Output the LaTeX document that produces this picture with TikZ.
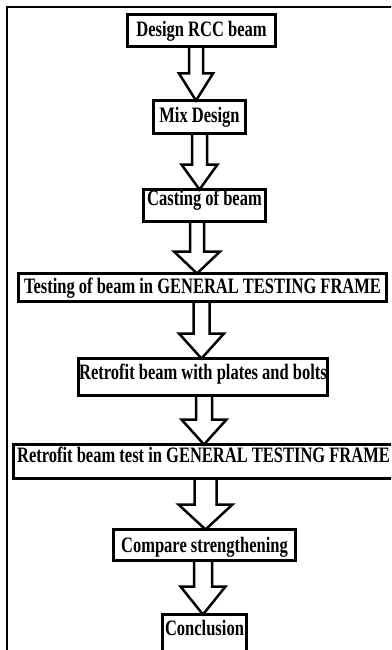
\documentclass[tikz,border=0pt]{standalone}
\usepackage{fontspec}
\setmainfont{Liberation Serif}[FakeStretch=0.75]
\usetikzlibrary{calc}
\tikzset{
  flowbox/.style={draw=black, line width=3pt, fill=white, inner sep=0pt, outer sep=0pt,
    text height=0pt, text depth=0pt, font=\fontsize{22}{22}\selectfont\bfseries},
  arr/.style={draw=black, line width=2.5pt, line join=miter},
  frame/.style={draw=black, line width=2pt}
}
% #1 src, #2 dst, #3 centre x, #4 half shaft, #5 half head, #6 head length
\newcommand\flowarrow[6]{%
  \draw[arr] let \p1=(#1.south), \p2=(#2.north) in
    (#3pt-#4pt,\y1) -- (#3pt-#4pt,\y2+#6pt) -- (#3pt-#5pt,\y2+#6pt) -- (#3pt,\y2)
    -- (#3pt+#5pt,\y2+#6pt) -- (#3pt+#4pt,\y2+#6pt) -- (#3pt+#4pt,\y1);}
\newcommand\bl[2]{\raisebox{#1pt}{#2}}
\begin{document}
\begin{tikzpicture}[x=1pt,y=-1pt]
\useasboundingbox (0,0) rectangle (391,650);
\fill[white] (0,0) rectangle (391,650);
\clip (0,0) rectangle (391,650);
\draw[frame] (7,7) rectangle (402,662);

\node[flowbox, minimum width=148pt, minimum height=32pt] (n1) at (201.5,30.5) {\bl{-6.5}{Design RCC beam}};
\node[flowbox, minimum width=92pt,  minimum height=33pt] (n2) at (199.5,117) {\bl{-6}{Mix Design}};
\node[flowbox, minimum width=122pt, minimum height=32pt] (n3) at (204.5,205.5) {\bl{0.5}{Casting of beam}};
\node[flowbox, minimum width=368pt, minimum height=28pt] (n4) at (202.5,287.5) {\bl{-5.5}{Testing of beam in GENERAL TESTING FRAME}};
\node[flowbox, minimum width=249pt, minimum height=37pt] (n5) at (203,377) {\bl{-2}{Retrofit beam with plates and bolts}};
\node[flowbox, minimum width=380pt, minimum height=34pt] (n6) at (203.5,461.5) {\bl{-0.5}{Retrofit beam test in GENERAL TESTING FRAME}};
\node[flowbox, minimum width=182pt, minimum height=31pt] (n7) at (204.5,545) {\bl{-7}{Compare strengthening}};
\node[flowbox, minimum width=84pt,  minimum height=44pt] (n8) at (204.5,636.5) {\bl{1.5}{Conclusion}};

\flowarrow{n1}{n2}{196}{7}{17}{27}
\flowarrow{n2}{n3}{199.5}{7.5}{18}{25}
\flowarrow{n3}{n4}{197}{7}{23}{22}
\flowarrow{n4}{n5}{201.5}{8}{22.5}{25}
\flowarrow{n5}{n6}{204}{8}{22.5}{25}
\flowarrow{n6}{n7}{205.5}{11}{27}{25}
\flowarrow{n7}{n8}{203}{9}{22.5}{28}
\end{tikzpicture}
\end{document}
